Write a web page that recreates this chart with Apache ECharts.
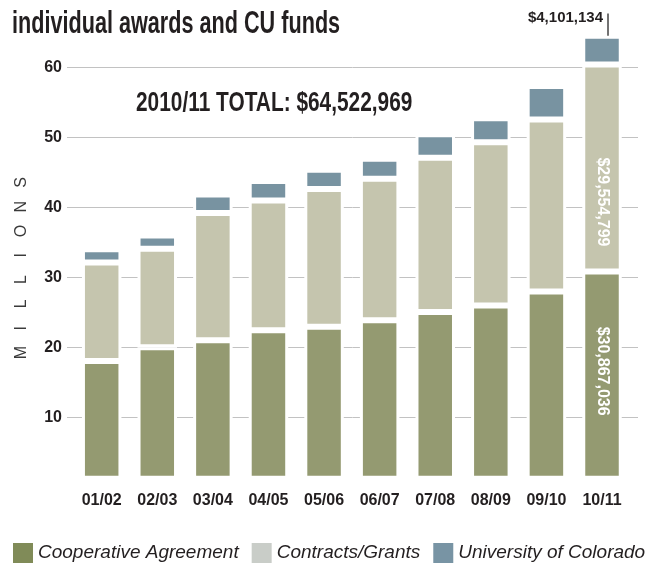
<!DOCTYPE html>
<html><head><meta charset="utf-8">
<script src="https://cdn.jsdelivr.net/npm/echarts@6/dist/echarts.min.js"></script>
<style>html,body{margin:0;padding:0;background:#fff}#c{width:661px;height:569px}</style>
</head><body><div id="c"></div>
<script>
const categories = ['01/02','02/03','03/04','04/05','05/06','06/07','07/08','08/09','09/10','10/11'];
const cooperative = [18.1, 20.05, 21.05, 22.5, 23.0, 23.9, 25.1, 26.0, 28.0, 30.867036];
const contracts   = [14.05, 14.05, 18.15, 18.5, 19.65, 20.2, 22.0, 23.3, 24.55, 29.554799];
const university  = [1.9, 1.9, 2.65, 2.8, 2.75, 2.85, 3.35, 3.45, 4.8, 4.101134];
const yTicks = [10, 20, 30, 40, 50, 60];
const seriesNames = ['Cooperative Agreement', 'Contracts/Grants', 'University of Colorado'];
const titleText = 'individual awards and CU funds';
const axisTitle = 'MILLIONS';
const totalPrefix = '2010/11 TOTAL: ';

const F = "'Liberation Sans', Arial, sans-serif";
const INK = '#231f20';
const barColors = ['#949a71', '#c5c5ae', '#7893a1'];
const legendColors = ['#808b58', '#c9cdc8', '#7894a4'];
const money = v => '$' + Math.round(v * 1e6).toString().replace(/\B(?=(\d{3})+(?!\d))/g, ',');

const last = categories.length - 1;
const total = cooperative[last] + contracts[last] + university[last];

const chart = echarts.init(document.getElementById('c'), null, {renderer: 'canvas'});
const yMin = 1.5, yMax = 68;
const gridTop = 11.3, gridBottom = 91.7;

function lastLabel(extra) {
  return Object.assign({show: true, position: 'inside', rotate: -90, color: '#fff',
    fontFamily: F, fontWeight: 'bold', fontSize: 16, formatter: p => money(p.value)}, extra || {});
}

const option = {
  animation: false,
  backgroundColor: '#fff',
  grid: [
    {left: 67, right: 23, top: gridTop, bottom: gridBottom},
    {left: 73.9, right: 31.2, top: gridTop, bottom: gridBottom}
  ],
  xAxis: [
    {gridIndex: 0, type: 'category', data: categories, show: false},
    {gridIndex: 1, type: 'category', data: categories,
     axisLine: {show: false}, axisTick: {show: false},
     axisLabel: {margin: 15, color: INK, fontFamily: F, fontWeight: 'bold', fontSize: 16}}
  ],
  yAxis: [
    {gridIndex: 0, type: 'value', min: yMin, max: yMax, minInterval: 10, maxInterval: 10,
     axisLine: {show: false}, axisTick: {show: false},
     axisLabel: {margin: 5, showMinLabel: false, showMaxLabel: false, color: INK,
       fontFamily: F, fontWeight: 'bold', fontSize: 16,
       formatter: v => yTicks.indexOf(v) >= 0 ? String(v) : ''},
     splitLine: {show: true, showMinLine: false, showMaxLine: false, lineStyle: {color: '#c2c2c2', width: 1}}},
    {gridIndex: 1, type: 'value', min: yMin, max: yMax, minInterval: 10, maxInterval: 10, show: false,
     splitLine: {show: false}}
  ],
  legend: {
    left: 13, top: 543, padding: 0, itemWidth: 20, itemHeight: 20, itemGap: 13, icon: 'rect',
    textStyle: {color: INK, fontFamily: F, fontStyle: 'italic', fontSize: 19},
    data: seriesNames.map((n, i) => ({name: n, itemStyle: {color: legendColors[i], borderWidth: 0}}))
  },
  series: [
    {name: seriesNames[0], type: 'bar', stack: 'all', xAxisIndex: 1, yAxisIndex: 1, barWidth: 39.5,
     itemStyle: {color: barColors[0], borderColor: '#fff', borderWidth: 3},
     data: cooperative.map((v, i) => i === last ? {value: v, label: lastLabel({offset: [-4, 0]})} : v)},
    {name: seriesNames[1], type: 'bar', stack: 'all', xAxisIndex: 1, yAxisIndex: 1, barWidth: 39.5,
     itemStyle: {color: barColors[1], borderColor: '#fff', borderWidth: 3},
     data: contracts.map((v, i) => i === last ? {value: v, label: lastLabel({offset: [34, 0]})} : v)},
    {name: seriesNames[2], type: 'bar', stack: 'all', xAxisIndex: 1, yAxisIndex: 1, barWidth: 39.5,
     itemStyle: {color: barColors[2], borderColor: '#fff', borderWidth: 3},
     data: university}
  ]
};
chart.setOption(option);

const toPx = v => chart.convertToPixel({gridIndex: 1}, [last, v]);
const lineTop = toPx(67.7), lineBot = toPx(62.3);
const labelPos = toPx(67.0);
const letters = axisTitle.split('');
const g = [
  {type: 'text', left: 12, top: 8, scaleX: 0.676, originX: 0,
   style: {text: titleText, fill: INK, font: "bold 32px " + F}},
  {type: 'text', left: 136, top: 89, scaleX: 0.745,
   style: {text: totalPrefix + money(total), fill: INK, font: "bold 28px " + F}},
  {type: 'line', shape: {x1: lineTop[0] + 6, y1: lineTop[1], x2: lineBot[0] + 6, y2: lineBot[1]},
   style: {stroke: '#444', lineWidth: 1.5}},
  {type: 'text', x: labelPos[0] + 1, y: labelPos[1],
   style: {text: money(university[last]), fill: INK, font: "bold 15px " + F, align: 'right', verticalAlign: 'middle'}}
];
letters.forEach((ch, i) => {
  g.push({type: 'text', x: 21.5, y: 352.5 - i * 24.3, rotation: Math.PI / 2,
    style: {text: ch, fill: '#3a3a3a', font: "16px " + F, align: 'center', verticalAlign: 'middle'}});
});
chart.setOption({graphic: g});
</script></body></html>
